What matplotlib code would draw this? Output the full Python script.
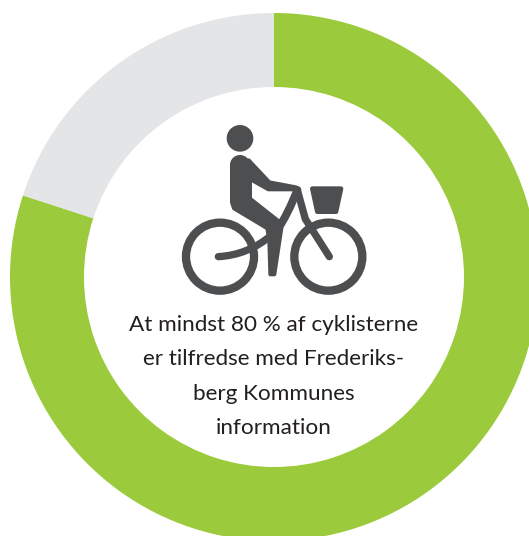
import matplotlib
matplotlib.use("Agg")
import matplotlib.pyplot as plt
from matplotlib.patches import Circle, PathPatch, Polygon
from matplotlib.path import Path

labels = ["Tilfredse", "Øvrige"]
values = [80, 20]
colors = ["#9BCB3C", "#E4E5E7"]
caption = ["At mindst 80 % af cyklisterne", "er tilfredse med Frederiks-", "berg Kommunes", "information"]
ICON = "#4D4E50"

fig = plt.figure(figsize=(5.29, 5.36), dpi=100, facecolor="white")
ax = fig.add_axes([0, 0, 1, 1])
CX, CY, R, W = 274, 259, 264, 74
ax.pie(values, colors=colors, startangle=90, counterclock=False, radius=R, center=(CX, CY),
       wedgeprops=dict(width=W, linewidth=0), frame=True)
ax.set_xlim(0, 529)
ax.set_ylim(0, 536)
ax.set_aspect("equal")
ax.axis("off")

# icon helper: coordinates measured on the 3x crop at (170,115)
def P(x, y):
    return (170 + x / 3, 536 - (115 + y / 3))

def stroke(pts, codes, lw):
    ax.add_patch(PathPatch(Path([P(*p) for p in pts], codes), fill=False, ec=ICON, lw=lw * 0.72 / 3,
                           capstyle="round", joinstyle="round"))

def fill(pts, round_px=0):
    ax.add_patch(Polygon([P(*p) for p in pts], closed=True, fc=ICON, ec=ICON, lw=round_px * 0.72 / 3,
                         joinstyle="round"))

M, L, C3 = Path.MOVETO, Path.LINETO, Path.CURVE3

ax.add_patch(Circle(P(210, 70), 40 / 3, fc=ICON, ec="none"))
for cx in (150, 475):
    ax.add_patch(Circle(P(cx, 425), 102 / 3, fc="none", ec=ICON, lw=25 * 0.72 / 3))

# rider
ax.add_patch(Circle(P(210, 150), 30 / 3, fc=ICON, ec="none"))
fill([(186, 150), (236, 136), (298, 202), (378, 217), (380, 223), (295, 223),
      (240, 192), (240, 251), (325, 318), (334, 340), (313, 478), (301, 478), (298, 378),
      (292, 340), (192, 280), (186, 262)], 12)
# frame
stroke([(145, 425), (235, 420), (305, 360)], [M, C3, C3], 22)
stroke([(382, 225), (355, 295), (322, 345)], [M, C3, C3], 24)
stroke([(382, 225), (406, 312), (478, 425)], [M, L, L], 22)
# basket
fill([(427, 221), (513, 221), (498, 290), (442, 290)], 14)

ys = [325, 359, 394, 428]
for line, y in zip(caption, ys):
    ax.text(273.5, 536 - y, line, ha="center", va="center", fontsize=16.2,
            family="Lato", color="#231F20")

fig.savefig("out.png", dpi=100)
